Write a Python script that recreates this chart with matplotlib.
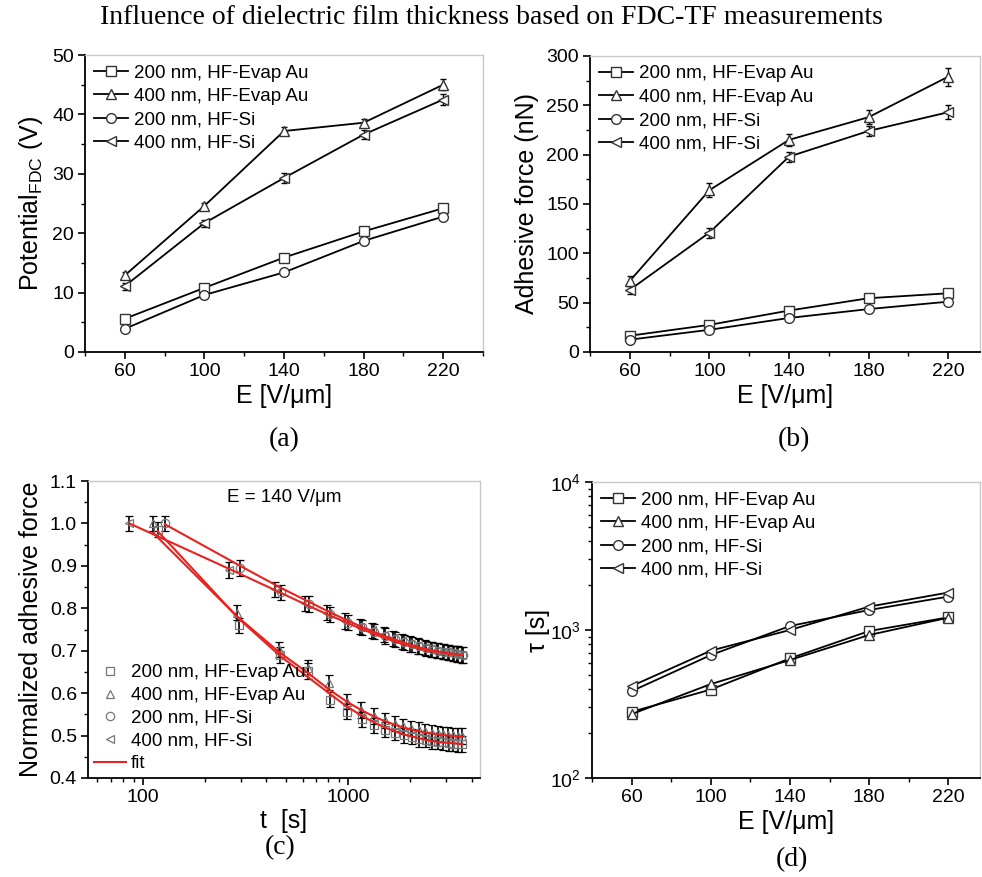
import numpy as np
import matplotlib
matplotlib.use("Agg")
import matplotlib.pyplot as plt
from matplotlib.ticker import MultipleLocator, FixedLocator, NullFormatter, FuncFormatter, LogLocator

plt.rcParams['font.family'] = ['Liberation Sans', 'DejaVu Sans']
plt.rcParams['mathtext.fontset'] = 'custom'
plt.rcParams['mathtext.rm'] = 'Liberation Sans'
plt.rcParams['mathtext.default'] = 'regular'

# ---- data ----
E_field = [60, 100, 140, 180, 220]
labels = ['200 nm, HF-Evap Au', '400 nm, HF-Evap Au', '200 nm, HF-Si', '400 nm, HF-Si']
markers = ['s', '^', 'o', '<']

# (a) potential FDC (V)
pot_200_evap = [5.6, 10.8, 15.9, 20.3, 24.2]
pot_400_evap = [12.9, 24.6, 37.2, 38.6, 45.0]
pot_200_si = [3.9, 9.6, 13.4, 18.7, 22.8]
pot_400_si = [11.1, 21.7, 29.3, 36.6, 42.5]
pot_err_200_evap = [0.6, 0.7, 0.6, 0.6, 0.8]
pot_err_400_evap = [0.6, 0.5, 0.6, 0.6, 0.9]
pot_err_200_si = [0.4, 0.5, 0.5, 0.5, 0.6]
pot_err_400_si = [0.6, 0.6, 0.8, 0.8, 0.9]

# (b) adhesive force (nN)
force_200_evap = [16.5, 27.5, 42, 54.5, 59.5]
force_400_evap = [72, 164, 215, 238, 279]
force_200_si = [12.5, 22.5, 34.5, 43.5, 51]
force_400_si = [63, 121, 198, 224, 243]
force_err_200_evap = [3, 3, 3, 3, 4]
force_err_400_evap = [5, 7, 6, 7, 9]
force_err_200_si = [3, 3, 3, 3, 3]
force_err_400_si = [4, 5, 5, 5, 7]

# (c) normalized adhesive force vs time, E = 140 V/um
t_200_evap = [118, 294, 466, 641, 818, 990, 1165, 1340, 1515, 1690, 1865,
              2040, 2215, 2390, 2565, 2740, 2915, 3090, 3265, 3440, 3615]
n_200_evap = [0.985, 0.76, 0.69, 0.652, 0.585, 0.556, 0.538, 0.524, 0.514, 0.507, 0.501,
              0.497, 0.492, 0.49, 0.487, 0.486, 0.484, 0.482, 0.481, 0.48, 0.48]
fit_200_evap = [0.982, 0.775, 0.688, 0.637, 0.598, 0.568, 0.547, 0.531, 0.519, 0.51, 0.503,
                0.498, 0.494, 0.49, 0.487, 0.485, 0.484, 0.483, 0.482, 0.481, 0.48]
t_400_evap = [112, 286, 461, 636, 811, 986, 1161, 1336, 1511, 1686, 1861,
              2036, 2211, 2386, 2561, 2736, 2911, 3086, 3261, 3436, 3611]
n_400_evap = [1.0, 0.79, 0.703, 0.66, 0.625, 0.58, 0.56, 0.546, 0.536, 0.528, 0.522,
              0.517, 0.513, 0.51, 0.507, 0.505, 0.503, 0.502, 0.501, 0.5, 0.499]
fit_400_evap = [0.978, 0.782, 0.697, 0.648, 0.608, 0.58, 0.56, 0.545, 0.534, 0.526, 0.519,
                0.514, 0.51, 0.507, 0.505, 0.503, 0.501, 0.5, 0.499, 0.498, 0.497]
t_200_si = [128, 298, 471, 646, 821, 996, 1171, 1346, 1521, 1696, 1871,
            2046, 2221, 2396, 2571, 2746, 2921, 3096, 3271, 3446, 3621]
n_200_si = [1.0, 0.895, 0.838, 0.81, 0.786, 0.766, 0.755, 0.745, 0.735, 0.727, 0.72,
            0.715, 0.71, 0.706, 0.703, 0.7, 0.698, 0.696, 0.694, 0.692, 0.69]
fit_200_si = [0.998, 0.9, 0.848, 0.815, 0.79, 0.771, 0.756, 0.744, 0.734, 0.726, 0.719,
              0.713, 0.708, 0.704, 0.701, 0.698, 0.696, 0.694, 0.692, 0.691, 0.69]
t_400_si = [86, 263, 440, 615, 790, 965, 1140, 1315, 1490, 1665, 1840,
            2015, 2190, 2365, 2540, 2715, 2890, 3065, 3240, 3415, 3590]
n_400_si = [1.0, 0.89, 0.845, 0.812, 0.79, 0.77, 0.757, 0.748, 0.738, 0.729, 0.722,
            0.716, 0.711, 0.707, 0.703, 0.7, 0.698, 0.696, 0.694, 0.692, 0.69]
fit_400_si = [1.0, 0.893, 0.843, 0.81, 0.786, 0.768, 0.753, 0.741, 0.731, 0.723, 0.716,
              0.711, 0.706, 0.702, 0.699, 0.697, 0.695, 0.693, 0.692, 0.691, 0.69]

# (d) time constant tau (s)
tau_200_evap = [280, 396, 643, 984, 1218]
tau_400_evap = [270, 431, 627, 925, 1211]
tau_200_si = [386, 677, 1064, 1365, 1682]
tau_400_si = [418, 725, 1000, 1439, 1791]

# ---- figure ----
fig = plt.figure(figsize=(9.82, 8.77), dpi=100)
W, H = 982.0, 877.0


def add_ax(x0, y0, x1, y1):
    return fig.add_axes([x0 / W, 1 - y1 / H, (x1 - x0) / W, (y1 - y0) / H])


def style(ax):
    for s in ['left', 'bottom']:
        ax.spines[s].set_linewidth(1.3)
    for s in ['top', 'right']:
        ax.spines[s].set_color('#c8c8c8')
        ax.spines[s].set_linewidth(1.0)
    ax.tick_params(which='major', direction='out', length=5, width=1.2, labelsize=14, pad=3)
    ax.tick_params(which='minor', direction='out', length=3, width=1.0)
    ax.tick_params(top=False, right=False, which='both')


def E_axis(ax):
    ax.set_xlim(40, 240)
    ax.xaxis.set_major_locator(FixedLocator(E_field))
    ax.xaxis.set_minor_locator(MultipleLocator(20))
    ax.set_xlabel('E [V/μm]', fontsize=18, labelpad=3)


def series_plot(ax, ys, errs=None):
    handles = []
    for i, y in enumerate(ys):
        e = errs[i] if errs is not None else None
        c = ax.errorbar(E_field, y, yerr=e, color='black', lw=1.3,
                        marker=markers[i], ms=7, mfc='white', mec='#333333', mew=1.0,
                        ecolor='black', elinewidth=1.0, capsize=2.5)
        handles.append(c.lines[0])
    ax.legend(handles, labels, loc='upper left', frameon=False, fontsize=13.5,
              handlelength=1.8, handletextpad=0.3, labelspacing=0.33,
              borderaxespad=0.3, borderpad=0.2)


# (a)
ax_a = add_ax(85, 55, 483, 352)
style(ax_a)
series_plot(ax_a, [pot_200_evap, pot_400_evap, pot_200_si, pot_400_si],
            [pot_err_200_evap, pot_err_400_evap, pot_err_200_si, pot_err_400_si])
E_axis(ax_a)
ax_a.set_ylim(0, 50)
ax_a.yaxis.set_major_locator(MultipleLocator(10))
ax_a.yaxis.set_minor_locator(MultipleLocator(5))
ax_a.set_ylabel('Potential$_{FDC}$ (V)', fontsize=18, labelpad=5)

# (b)
ax_b = add_ax(590, 56, 980, 352)
style(ax_b)
series_plot(ax_b, [force_200_evap, force_400_evap, force_200_si, force_400_si],
            [force_err_200_evap, force_err_400_evap, force_err_200_si, force_err_400_si])
E_axis(ax_b)
ax_b.set_xlim(40, 236)
ax_b.set_ylim(0, 300)
ax_b.yaxis.set_major_locator(MultipleLocator(50))
ax_b.yaxis.set_minor_locator(MultipleLocator(25))
ax_b.set_ylabel('Adhesive force (nN)', fontsize=18, labelpad=5)

# (c)
ax_c = add_ax(88, 481, 480, 778)
style(ax_c)
t_sets = [t_200_evap, t_400_evap, t_200_si, t_400_si]
n_sets = [n_200_evap, n_400_evap, n_200_si, n_400_si]
fit_sets = [fit_200_evap, fit_400_evap, fit_200_si, fit_400_si]
c_handles = []
for i in range(4):
    c = ax_c.errorbar(t_sets[i], n_sets[i], yerr=0.018, fmt=markers[i], ms=6,
                      mfc='none', mec='#777777', mew=0.9, ecolor='black',
                      elinewidth=1.2, capsize=3, capthick=1.2, zorder=2)
    c_handles.append(c.lines[0])
for i in range(4):
    ln, = ax_c.plot(t_sets[i], fit_sets[i], color='#e8231f', lw=1.5, zorder=3)
c_handles.append(ln)
ax_c.set_xscale('log')
ax_c.set_xlim(54, 4400)
ax_c.set_ylim(0.4, 1.1)
ax_c.xaxis.set_major_locator(FixedLocator([100, 1000]))
ax_c.xaxis.set_major_formatter(FuncFormatter(lambda v, p: '%d' % v))
ax_c.xaxis.set_minor_locator(LogLocator(base=10, subs=np.arange(2, 10)))
ax_c.xaxis.set_minor_formatter(NullFormatter())
ax_c.yaxis.set_major_locator(MultipleLocator(0.1))
ax_c.yaxis.set_minor_locator(MultipleLocator(0.05))
ax_c.yaxis.set_major_formatter(FuncFormatter(lambda v, p: '%.1f' % v))
ax_c.set_xlabel('t  [s]', fontsize=18, labelpad=2)
ax_c.set_ylabel('Normalized adhesive force', fontsize=18, labelpad=5)
ax_c.text(0.5, 0.945, 'E = 140 V/μm', transform=ax_c.transAxes, ha='center',
          va='center', fontsize=13.5)
ax_c.legend(c_handles, labels + ['fit'], loc='lower left', frameon=False,
            fontsize=13.5, handlelength=1.7, handletextpad=0.3, labelspacing=0.3,
            borderaxespad=0.1, borderpad=0.2)

# (d)
ax_d = add_ax(592, 482, 980, 778)
style(ax_d)
series_plot(ax_d, [tau_200_evap, tau_400_evap, tau_200_si, tau_400_si])
E_axis(ax_d)
ax_d.set_xlim(40, 236)
ax_d.set_yscale('log')
ax_d.set_ylim(100, 10000)
ax_d.yaxis.set_major_locator(FixedLocator([100, 1000, 10000]))
ax_d.yaxis.set_major_formatter(FuncFormatter(lambda v, p: '10$^{%d}$' % round(np.log10(v))))
ax_d.yaxis.set_minor_locator(LogLocator(base=10, subs=np.arange(2, 10)))
ax_d.yaxis.set_minor_formatter(NullFormatter())
ax_d.set_ylabel('τ [s]', fontsize=18, labelpad=0)

# title and panel labels
fig.text(0.5, 1 - 18 / H, 'Influence of dielectric film thickness based on FDC-TF measurements',
         ha='center', va='center', fontsize=20, family='Liberation Serif')
for lab, x, y in [('(a)', 284, 440), ('(b)', 794, 440), ('(c)', 280, 848), ('(d)', 792, 860)]:
    fig.text(x / W, 1 - y / H, lab, ha='center', va='center', fontsize=20,
             family='Liberation Serif')

fig.savefig('out.png', dpi=100)
